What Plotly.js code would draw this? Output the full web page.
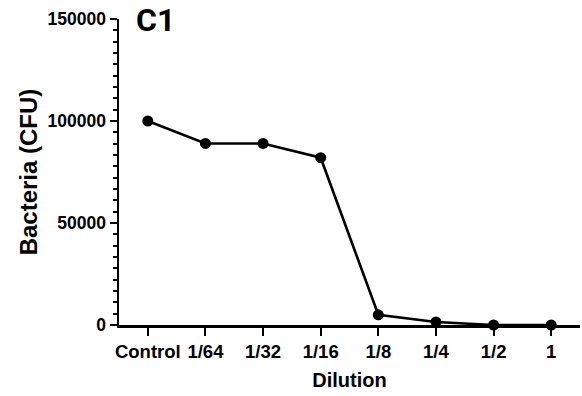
<!DOCTYPE html>
<html>
<head>
<meta charset="utf-8">
<script src="https://cdn.plot.ly/plotly-3.0.1.min.js"></script>
<style>
  html, body { margin: 0; padding: 0; background: #ffffff; }
  #chart { width: 582px; height: 396px; }
</style>
</head>
<body>
<div id="chart"></div>
<script>
// Bacterial counts (CFU) at each dilution
const dilutions = ["Control", "1/64", "1/32", "1/16", "1/8", "1/4", "1/2", "1"];
const cfu = [100000, 89000, 89000, 82000, 5000, 1500, 0, 0];
const yTicks = [0, 50000, 100000, 150000];
const panelLabel = "C1";

const fontFamily = "Liberation Sans, Arial, sans-serif";

const trace = {
  x: dilutions,
  y: cfu,
  type: "scatter",
  mode: "lines+markers",
  line: { color: "#000000", width: 2.6 },
  marker: { color: "#000000", size: 11, symbol: "circle" },
  cliponaxis: false,
  hoverinfo: "x+y"
};

const layout = {
  width: 582,
  height: 396,
  margin: { l: 119, r: 2, t: 19, b: 71 },
  paper_bgcolor: "#ffffff",
  plot_bgcolor: "#ffffff",
  showlegend: false,
  font: { family: fontFamily, color: "#000000" },
  xaxis: {
    type: "category",
    range: [-0.5, 7.5],
    showgrid: false,
    zeroline: false,
    showline: true,
    linecolor: "#000000",
    linewidth: 2.5,
    ticks: "outside",
    ticklen: 8,
    tickwidth: 2,
    tickcolor: "#000000",
    tickfont: { family: fontFamily, size: 18.5, weight: "bold", color: "#000000" },
    title: {
      text: "Dilution",
      font: { family: fontFamily, size: 20, weight: "bold", color: "#000000" },
      standoff: 13
    },
    automargin: false
  },
  yaxis: {
    range: [0, 150000],
    tickvals: yTicks,
    ticktext: yTicks.map(String),
    showgrid: false,
    zeroline: false,
    showline: true,
    linecolor: "#000000",
    linewidth: 2.5,
    ticks: "outside",
    ticklen: 7,
    tickwidth: 2,
    tickcolor: "#000000",
    minor: {
      dtick: 50000 / 9,
      tick0: 0,
      ticks: "outside",
      ticklen: 4,
      tickwidth: 2,
      tickcolor: "#000000",
      showgrid: false
    },
    tickfont: { family: fontFamily, size: 17.5, weight: "bold", color: "#000000" },
    title: {
      text: "Bacteria (CFU)",
      font: { family: fontFamily, size: 24, weight: "bold", color: "#000000" },
      standoff: 3
    },
    automargin: false
  },
  annotations: [{
    text: panelLabel,
    xref: "paper", yref: "paper",
    x: (135 - 119) / 461, y: 1 + 19 / 306,
    xanchor: "left", yanchor: "top",
    borderpad: 0,
    showarrow: false,
    font: { family: "Roboto, sans-serif", size: 32, weight: "bold", color: "#000000" }
  }]
};

Plotly.newPlot("chart", [trace], layout, { displayModeBar: false, staticPlot: true });
</script>
</body>
</html>
